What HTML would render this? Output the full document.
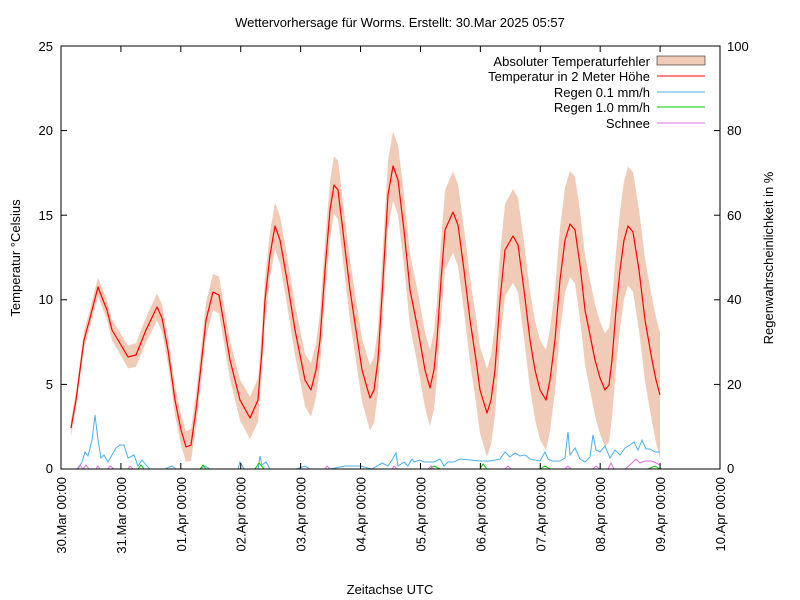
<!DOCTYPE html>
<html><head><meta charset="utf-8"><style>
body{margin:0;background:#fff}
svg{display:block;font-family:"Liberation Sans",sans-serif;font-size:13px}
</style></head><body>
<svg id="s" width="800" height="600" viewBox="0 0 800 600">
<text x="400" y="27" text-anchor="middle" font-size="13">Wettervorhersage für Worms. Erstellt: 30.Mar 2025 05:57</text>
<g id="band"></g>
<g id="lines"></g>
<rect x="61" y="46" width="659" height="423" fill="none" stroke="#000" stroke-width="1"/>
<g id="ticks" stroke="#000"></g>
<g text-anchor="end">
<text x="53" y="473">0</text><text x="53" y="389">5</text><text x="53" y="304">10</text>
<text x="53" y="220">15</text><text x="53" y="135">20</text><text x="53" y="51">25</text>
</g>
<g text-anchor="start">
<text x="727" y="473">0</text><text x="727" y="389">20</text><text x="727" y="304">40</text>
<text x="727" y="220">60</text><text x="727" y="135">80</text><text x="727" y="51">100</text>
</g>
<g id="xl"></g>
<text transform="translate(20,258) rotate(-90)" text-anchor="middle">Temperatur °Celsius</text>
<text transform="translate(773,258) rotate(-90)" text-anchor="middle">Regenwahrscheinlichkeit in %</text>
<text x="390" y="594" text-anchor="middle">Zeitachse UTC</text>
<g text-anchor="end">
<text x="650" y="66">Absoluter Temperaturfehler</text>
<text x="650" y="81">Temperatur in 2 Meter Höhe</text>
<text x="650" y="97">Regen 0.1 mm/h</text>
<text x="650" y="112">Regen 1.0 mm/h</text>
<text x="650" y="128">Schnee</text>
</g>
<rect x="657" y="56" width="48" height="9" fill="#f0ccb8" stroke="#000" stroke-width="0.5"/>
<line x1="657" y1="76" x2="705" y2="76" stroke="#f00"/>
<line x1="657" y1="92" x2="705" y2="92" stroke="#4ab0ee"/>
<line x1="657" y1="107" x2="705" y2="107" stroke="#0c0"/>
<line x1="657" y1="123" x2="705" y2="123" stroke="#e070e0"/>
</svg>
<script>
var T=[[71,428],[76,400],[84,340],[90,318],[98,287],[103,300],[107,310],[112,330],[118,340],[128,357],[136,355],[146,330],[157,307],[162,318],[168,350],[175,400],[181,430],[186,447],[191,445],[196,410],[200,375],[206,320],[213,292],[219,295],[225,330],[230,360],[240,400],[250,418],[258,400],[262,350],[265,300],[270,255],[275,226],[280,240],[287,280],[295,330],[305,380],[311,390],[316,370],[320,340],[325,270],[330,210],[334,185],[338,190],[344,240],[350,290],[356,330],[362,370],[370,398],[374,390],[378,360],[383,280],[388,195],[393,166],[398,180],[404,230],[410,290],[418,330],[425,370],[430,388],[434,370],[437,340],[441,280],[445,230],[453,212],[458,225],[464,270],[470,320],[476,360],[480,390],[487,413],[491,400],[495,370],[500,300],[505,250],[513,236],[518,245],[524,290],[530,340],[535,370],[540,390],[546,400],[550,380],[555,340],[560,280],[565,240],[570,224],[575,230],[580,265],[585,310],[590,335],[595,360],[600,378],[605,390],[609,385],[612,360],[616,310],[620,270],[624,240],[628,226],[633,232],[639,270],[645,320],[652,360],[656,380],[660,395]];
function w(x){return 8+Math.pow((x-71)/590,1.2)*55;}
var up=T.map(p=>[p[0],p[1]-w(p[0])]),lo=T.map(p=>[p[0],Math.min(462,p[1]+w(p[0]))]).reverse();
var pts=up.concat(lo).map(p=>p.join(',')).join(' ');
var ns='http://www.w3.org/2000/svg';
function el(t,a,par){var e=document.createElementNS(ns,t);for(var k in a)e.setAttribute(k,a[k]);document.getElementById(par).appendChild(e);return e;}
el('polygon',{points:pts,fill:'#f0ccb8','stroke-linejoin':'round'},'band');
el('polyline',{points:T.map(p=>p.join(',')).join(' '),fill:'none',stroke:'#f00','stroke-width':1.2,'stroke-linejoin':'round'},'lines');
var R=[[78,469],[82,462],[85,452],[88,456],[92,440],[95,415],[98,440],[101,458],[104,455],[108,462],[112,455],[116,448],[120,445],[124,445],[128,458],[134,455],[138,466],[142,460],[146,465],[150,469],[165,469],[172,466],[176,469],[200,469],[205,466],[210,469],[238,469],[240,462],[244,469],[258,469],[260,456],[262,465],[266,462],[270,469],[290,469],[296,469],[305,466],[310,469],[330,469],[345,466],[360,466],[372,469],[382,463],[388,466],[392,460],[396,453],[398,466],[404,462],[408,466],[412,459],[414,462],[420,460],[424,462],[434,462],[440,459],[444,466],[448,462],[454,462],[460,459],[470,460],[480,461],[490,461],[500,459],[505,452],[510,457],[515,453],[520,456],[525,455],[530,459],[540,461],[545,452],[548,459],[552,461],[560,461],[565,458],[568,432],[570,455],[575,448],[580,459],[585,462],[590,457],[593,435],[596,450],[600,452],[605,446],[610,458],[615,450],[620,455],[625,448],[630,445],[634,442],[638,450],[642,440],[646,449],[650,449],[655,452],[660,452]];
el('polyline',{points:R.map(p=>p.join(',')).join(' '),fill:'none',stroke:'#4ab0ee','stroke-width':1},'lines');
var G=[[138,469],[141,465],[144,469],[170,469],[200,469],[203,465],[206,469],[255,469],[259,463],[264,469],[282,469],[430,469],[434,466],[440,469],[480,469],[483,464],[487,469],[520,469],[540,469],[545,466],[550,469],[575,469],[600,469],[640,469],[648,469],[655,466],[660,469]];
el('polyline',{points:G.map(p=>p.join(',')).join(' '),fill:'none',stroke:'#0c0','stroke-width':1},'lines');
var M=[[77,469],[80,465],[83,469],[86,465],[89,469],[96,469],[98,466],[100,469],[108,469],[110,466],[114,469],[128,469],[130,466],[133,469],[325,469],[327,466],[330,469],[392,469],[394,466],[397,469],[428,469],[431,466],[434,469],[505,469],[508,466],[511,469],[565,469],[568,466],[571,469],[593,469],[596,466],[600,469],[608,469],[611,463],[614,469],[625,469],[630,465],[636,459],[640,463],[645,461],[652,461],[656,463],[660,465]];
el('polyline',{points:M.map(p=>p.join(',')).join(' '),fill:'none',stroke:'#e070e0','stroke-width':1},'lines');
var days=['30.Mar','31.Mar','01.Apr','02.Apr','03.Apr','04.Apr','05.Apr','06.Apr','07.Apr','08.Apr','09.Apr','10.Apr'];
for(var i=0;i<12;i++){var x=61+i*659/11;
 el('line',{x1:x,y1:469,x2:x,y2:463},'ticks');el('line',{x1:x,y1:46,x2:x,y2:52},'ticks');
 var t=el('text',{transform:'translate('+(x+5)+',477) rotate(-90)','text-anchor':'end'},'xl');t.textContent=days[i]+' 00:00';}
for(var j=0;j<6;j++){var y=469-j*84.6;el('line',{x1:61,y1:y,x2:67,y2:y},'ticks');el('line',{x1:720,y1:y,x2:714,y2:y},'ticks');}
</script>
</body></html>
